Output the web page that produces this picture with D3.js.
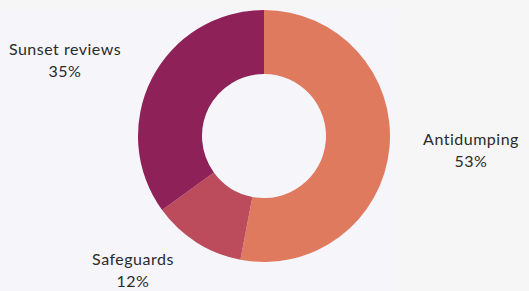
<!DOCTYPE html>
<html>
<head>
<meta charset="utf-8">
<script src="https://cdn.jsdelivr.net/npm/d3@7"></script>
<style>
    html, body { margin: 0; padding: 0; background: #f6f6f7; }
    svg { display: block; }
</style>
</head>
<body>
<div id="chart"></div>
<script>
const categories = ["Antidumping", "Safeguards", "Sunset reviews"];
const shares = [53, 12, 35];
const colors = ["#e07a5f", "#bc4b5c", "#8e2157"];

const WIDTH = 529, HEIGHT = 291;
const CENTER = {x: 264, y: 136};
const OUTER_R = 126, INNER_R = 62;
const FONT_FAMILY = "Lato, 'Noto Sans', sans-serif";

let svg = d3.select("#chart")
    .append("svg")
    .attr("width", WIDTH)
    .attr("height", HEIGHT);

// faint panel behind the chart
svg.append("rect")
    .attr("x", 0).attr("y", 10)
    .attr("width", 395).attr("height", HEIGHT - 10)
    .attr("fill", "#f5f5fa");

let g = svg.append("g")
    .attr("transform", "translate(" + CENTER.x + "," + CENTER.y + ")");

let data = categories.map((c, i) => ({name: c, value: shares[i], color: colors[i]}));

let pie = d3.pie().sort(null).value(d => d.value);
let arc = d3.arc().innerRadius(INNER_R).outerRadius(OUTER_R);

g.selectAll("path")
    .data(pie(data))
    .enter()
    .append("path")
    .attr("d", arc)
    .attr("fill", d => d.data.color);

// label anchors, offset from the centre (label name baseline)
const labelPos = {
    "Antidumping": [207, 9],
    "Safeguards": [-131, 129],
    "Sunset reviews": [-199, -81]
};

let labels = g.selectAll("g.label")
    .data(data)
    .enter()
    .append("g")
    .attr("class", "label")
    .attr("transform", d => "translate(" + labelPos[d.name][0] + "," + labelPos[d.name][1] + ")")
    .style("font-family", FONT_FAMILY)
    .style("font-size", "16px")
    .style("font-weight", 400)
    .style("letter-spacing", "0.5px")
    .style("fill", "#2b2b2b")
    .style("text-anchor", "middle");

labels.append("text")
    .text(d => d.name);

labels.append("text")
    .attr("y", 22)
    .text(d => d.value + "%");
</script>
</body>
</html>
